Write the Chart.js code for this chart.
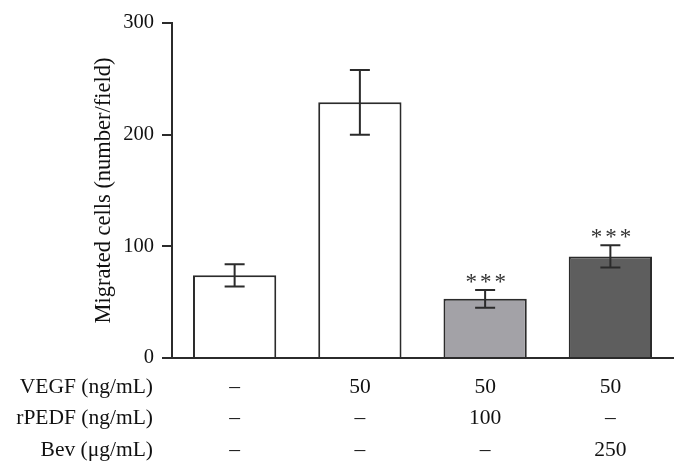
<!DOCTYPE html>
<html lang="en">
<head>
<meta charset="UTF-8">
<title>Migrated cells</title>
<script src="https://cdn.jsdelivr.net/npm/chart.js"></script>
<style>
    html, body { margin: 0; padding: 0; background: #fff; }
    #wrap { width: 688px; height: 474px; position: relative; }
</style>
</head>
<body>
<div id="wrap"><canvas id="chart" width="688" height="474"></canvas></div>
<script>
    // values
    const groups = ['ctrl', 'VEGF', 'VEGF+rPEDF', 'VEGF+Bev'];
    const migrated = [74, 229, 53, 91];
    const errors = [10, 29, 8, 10];
    const stars = ['', '', '***', '***'];
    const barColors = ['#ffffff', '#ffffff', '#a3a2a7', '#5e5e5e'];

    // treatment table under the x axis
    const rowLabels = ['VEGF (ng/mL)', 'rPEDF (ng/mL)', 'Bev (\u03bcg/mL)'];
    const vegf = ['\u2013', '50', '50', '50'];
    const rpedf = ['\u2013', '\u2013', '100', '\u2013'];
    const bev = ['\u2013', '\u2013', '\u2013', '250'];
    const yTicks = [0, 100, 200, 300];

    const ink = '#2b2b2b';
    const serif = '"Liberation Serif", "DejaVu Serif", serif';

    const extras = {
        id: 'extras',
        afterDatasetsDraw(chart) {
            const ctx = chart.ctx;
            const x = chart.scales.x, y = chart.scales.y;
            ctx.save();
            ctx.strokeStyle = ink;
            ctx.lineWidth = 2;
            groups.forEach((g, i) => {
                const cx = x.getPixelForValue(i);
                const hi = y.getPixelForValue(migrated[i] + errors[i]);
                const lo = y.getPixelForValue(migrated[i] - errors[i]);
                ctx.beginPath();
                ctx.moveTo(cx, hi); ctx.lineTo(cx, lo);
                ctx.moveTo(cx - 10, hi); ctx.lineTo(cx + 10, hi);
                ctx.moveTo(cx - 10, lo); ctx.lineTo(cx + 10, lo);
                ctx.stroke();
                if (stars[i]) {
                    ctx.fillStyle = '#333';
                    ctx.font = '23px ' + serif;
                    ctx.textAlign = 'center';
                    ctx.textBaseline = 'middle';
                    ctx.letterSpacing = '3px';
                    ctx.fillText(stars[i], cx + 2, hi - 7);
                    ctx.letterSpacing = '0px';
                }
            });

            // table rows
            const rows = [vegf, rpedf, bev];
            const rowY = [387, 418, 450];
            ctx.fillStyle = '#111';
            ctx.font = '21.5px ' + serif;
            ctx.textBaseline = 'middle';
            rows.forEach((r, k) => {
                ctx.textAlign = 'right';
                ctx.fillText(rowLabels[k], 153, rowY[k]);
                ctx.textAlign = 'center';
                r.forEach((v, i) => ctx.fillText(v, x.getPixelForValue(i), rowY[k]));
            });
            ctx.restore();
        }
    };

    new Chart(document.getElementById('chart'), {
        type: 'bar',
        data: {
            labels: groups,
            datasets: [{
                data: migrated,
                backgroundColor: barColors,
                borderColor: ink,
                borderWidth: 2,
                borderSkipped: 'bottom',
                barPercentage: 0.665,
                categoryPercentage: 1
            }]
        },
        options: {
            responsive: false,
            animation: false,
            devicePixelRatio: 1,
            layout: { padding: { top: 23, right: 15, bottom: 0, left: 91 } },
            plugins: { legend: { display: false }, tooltip: { enabled: false } },
            scales: {
                x: {
                    grid: { display: false },
                    border: { color: ink, width: 2 },
                    ticks: { display: false },
                    afterFit(scale) { scale.height = 116; }
                },
                y: {
                    min: 0, max: 300,
                    afterBuildTicks(scale) { scale.ticks = yTicks.map(v => ({ value: v })); },
                    grid: { drawOnChartArea: false, tickLength: 10, color: ink, lineWidth: 2 },
                    border: { color: ink, width: 2 },
                    ticks: { color: '#111', padding: 8, font: { family: serif, size: 20.5 } },
                    title: {
                        display: true,
                        text: 'Migrated cells (number/field)',
                        color: '#111',
                        font: { family: serif, size: 22.5 },
                        padding: 0
                    },
                    afterFit(scale) { scale.width = 81; }
                }
            }
        },
        plugins: [extras]
    });
</script>
</body>
</html>
